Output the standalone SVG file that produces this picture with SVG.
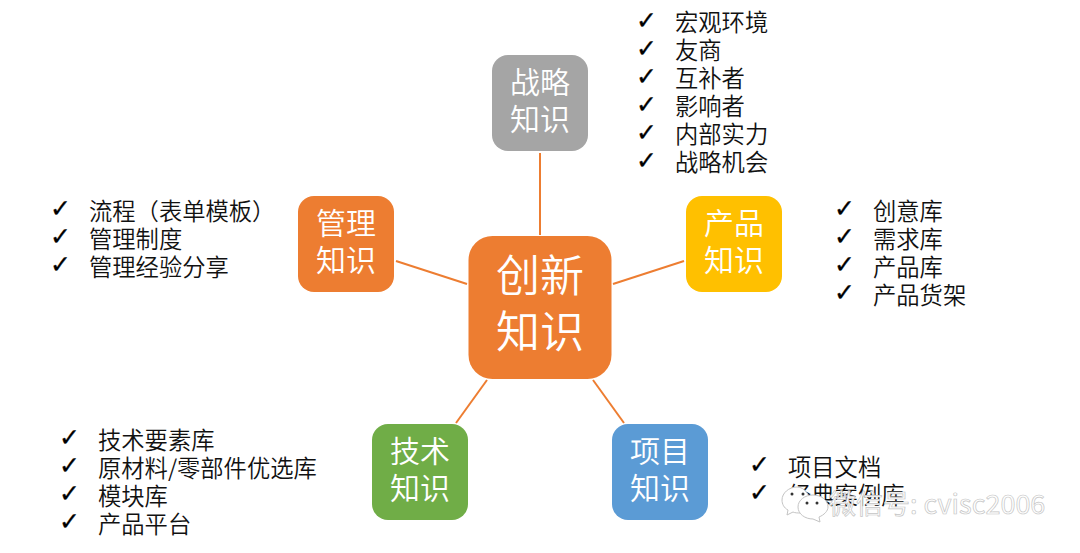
<svg xmlns="http://www.w3.org/2000/svg" width="1080" height="553" viewBox="0 0 1080 553">
<style>
text{font-family:"Noto Sans CJK SC","Liberation Sans",sans-serif}
.l{font-size:23.3px;fill:#111;font-weight:350}
.c{font-size:25px;fill:#000;stroke:#000;stroke-width:.35;font-family:"DejaVu Sans",sans-serif}
.n{font-size:30px;fill:#fff;text-anchor:middle;font-weight:350}
.m{font-size:44px;fill:#fff;text-anchor:middle;font-weight:350}
.e{stroke:#ed7d31;stroke-width:2;fill:none}
.w{font-size:27px;fill:#fff;stroke:#c4c4c4;stroke-width:.7}
.b{fill:#fff;stroke:#c4c4c4}
</style>
<rect width="1080" height="553" fill="#fff"/>
<g id="connectors">
<line class="e" x1="540" y1="153" x2="540" y2="235"/>
<line class="e" x1="396" y1="261" x2="467" y2="284"/>
<line class="e" x1="684" y1="261" x2="613" y2="284"/>
<line class="e" x1="487" y1="380" x2="456" y2="423"/>
<line class="e" x1="593" y1="380" x2="624" y2="423"/>
</g>
<g id="center"><rect x="468.500" y="236" width="143" height="143" rx="24" fill="#ed7d31"/><text class="m" x="540" y="292">创新</text><text class="m" x="540" y="348">知识</text></g>
<g id="strategy"><rect x="492" y="55" width="96" height="96" rx="16" fill="#a5a5a5"/><text class="n" x="540" y="93">战略</text><text class="n" x="540" y="130">知识</text></g>
<g id="management"><rect x="298" y="196" width="96" height="96" rx="16" fill="#ed7d31"/><text class="n" x="346" y="234">管理</text><text class="n" x="346" y="271">知识</text></g>
<g id="product"><rect x="686" y="196" width="96" height="96" rx="16" fill="#ffc000"/><text class="n" x="734" y="234">产品</text><text class="n" x="734" y="271">知识</text></g>
<g id="tech"><rect x="372" y="424" width="96" height="96" rx="16" fill="#70ad47"/><text class="n" x="420" y="462">技术</text><text class="n" x="420" y="499">知识</text></g>
<g id="project"><rect x="612" y="424" width="96" height="96" rx="16" fill="#5b9bd5"/><text class="n" x="660" y="462">项目</text><text class="n" x="660" y="499">知识</text></g>
<g id="list-strategy">
<text class="c" x="636" y="29">✓</text><text class="l" x="675" y="31">宏观环境</text>
<text class="c" x="636" y="57">✓</text><text class="l" x="675" y="59">友商</text>
<text class="c" x="636" y="85">✓</text><text class="l" x="675" y="87">互补者</text>
<text class="c" x="636" y="113">✓</text><text class="l" x="675" y="115">影响者</text>
<text class="c" x="636" y="141">✓</text><text class="l" x="675" y="143">内部实力</text>
<text class="c" x="636" y="169">✓</text><text class="l" x="675" y="171">战略机会</text>
</g>
<g id="list-management">
<text class="c" x="50" y="217">✓</text><text class="l" x="89" y="220">流程（表单模板）</text>
<text class="c" x="50" y="245">✓</text><text class="l" x="89" y="248">管理制度</text>
<text class="c" x="50" y="273">✓</text><text class="l" x="89" y="276">管理经验分享</text>
</g>
<g id="list-product">
<text class="c" x="834" y="217">✓</text><text class="l" x="873" y="220">创意库</text>
<text class="c" x="834" y="245">✓</text><text class="l" x="873" y="248">需求库</text>
<text class="c" x="834" y="273">✓</text><text class="l" x="873" y="276">产品库</text>
<text class="c" x="834" y="301">✓</text><text class="l" x="873" y="304">产品货架</text>
</g>
<g id="list-tech">
<text class="c" x="59" y="446">✓</text><text class="l" x="98" y="449">技术要素库</text>
<text class="c" x="59" y="474">✓</text><text class="l" x="98" y="477">原材料/零部件优选库</text>
<text class="c" x="59" y="502">✓</text><text class="l" x="98" y="505">模块库</text>
<text class="c" x="59" y="530">✓</text><text class="l" x="98" y="533">产品平台</text>
</g>
<g id="list-project">
<text class="c" x="749" y="473">✓</text><text class="l" x="788" y="476">项目文档</text>
<text class="c" x="749" y="501">✓</text><text class="l" x="788" y="504">经典案例库</text>
</g>
<g id="watermark">
<path class="b" d="M797 487c-8 0-15 6-15 13 0 4 2 8 6 10l-1 5 6-3c2 1 5 1 8 1l10-6c0-11-6-20-14-20z"/>
<circle cx="792" cy="494" r="1.500" fill="#333"/><circle cx="803" cy="494" r="1.500" fill="#333"/>
<path class="b" d="M813 495c-8 0-15 5-15 12s7 12 15 12l7 3-1-5c5-2 9-6 9-10 0-7-7-12-15-12z"/>
<circle cx="807" cy="503" r="1.500" fill="#333"/><circle cx="817" cy="503" r="1.500" fill="#333"/>
<text class="w" x="829" y="514">微信号: cvisc2006</text>
</g>
</svg>
